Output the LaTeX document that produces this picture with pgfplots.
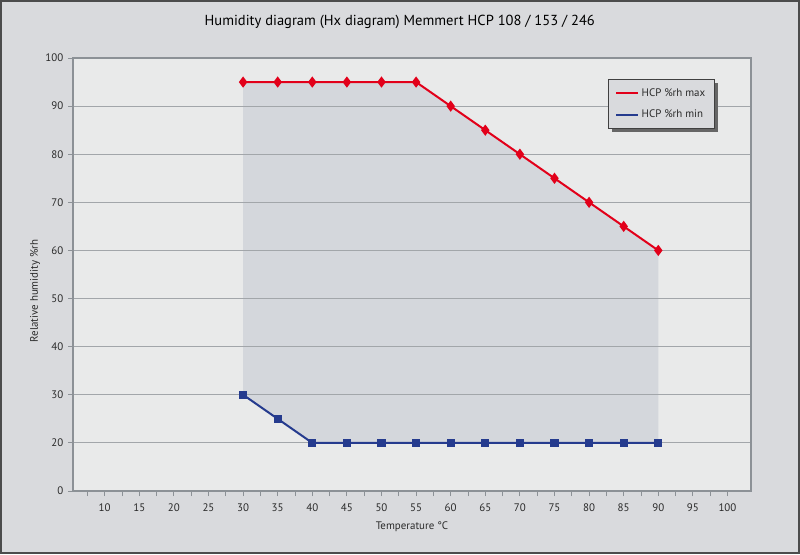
\documentclass[border=0pt]{standalone}
\usepackage{fontspec}
\setmainfont{PT Sans}
\usepackage{pgfplots}
\pgfplotsset{compat=1.18}
\usetikzlibrary{shadows}

\definecolor{outerbg}{HTML}{D9DADD}
\definecolor{plotbg}{HTML}{E9EAEA}
\definecolor{shade}{HTML}{D4D7DC}
\definecolor{gridc}{HTML}{A2A6AA}
\definecolor{axisc}{HTML}{8C9196}
\definecolor{hcpred}{HTML}{E2001A}
\definecolor{hcpblue}{HTML}{253B8E}
\definecolor{txt}{HTML}{2A2A2A}

\pagecolor{outerbg}

\begin{document}
\begin{tikzpicture}
\path (0,0) rectangle (600pt,415.5pt);

\begin{axis}[
    set layers,
    at={(54.75pt,47.25pt)}, anchor=south west,
    scale only axis,
    width=508.5pt, height=324.75pt,
    axis background/.style={fill=plotbg},
    xmin=5.42, xmax=103.4,
    ymin=10, ymax=100,
    xtick={10,15,...,100},
    minor xtick={7.5,12.5,...,97.5},
    ytick={10,20,...,100},
    yticklabels={0,20,30,40,50,60,70,80,90,100},
    tick align=outside,
    major tick length=3.75pt,
    minor tick length=3.75pt,
    tick style={axisc, line width=0.6pt},
    xtick pos=bottom, ytick pos=left,
    ymajorgrids,
    major grid style={gridc, line width=0.75pt},
    axis line style={axisc, line width=0.9pt},
    tick label style={font=\fontsize{8.2}{10}\selectfont, text=txt},
    /pgf/number format/assume math mode=true,
    xticklabel style={yshift=-2pt},
    label style={font=\fontsize{8.2}{10}\selectfont, text=txt},
    xlabel={Temperature °C},
    ylabel={Relative humidity \%rh},
    xlabel style={at={(axis description cs:0.5,-0.083)}, anchor=center},
    ylabel style={at={(axis description cs:-0.056,0.462)}, anchor=center},
    title={Humidity diagram (Hx diagram) Memmert HCP 108 / 153 / 246},
    title style={at={(axis description cs:0.482,1.065)}, anchor=center,
                 font=\fontsize{10.9}{12}\selectfont, text=black},
    legend cell align=left,
    legend style={at={(rel axis cs:0.789,0.951)}, anchor=north west,
        fill=outerbg, draw=black!75, line width=0.6pt,
        drop shadow={shadow xshift=2.4pt, shadow yshift=-2.4pt, fill=black!60, opacity=1},
        font=\fontsize{8.2}{10}\selectfont, text=txt,
        inner xsep=5pt, inner ysep=4.5pt, row sep=5pt},
    legend image code/.code={%
        \begin{scope}[#1]
        \pgfpathmoveto{\pgfpointorigin}%
        \pgfpathlineto{\pgfpoint{16.5pt}{0pt}}%
        \pgfusepath{stroke}%
        \end{scope}},
]
% band between the two limits
\addplot[fill=shade, draw=none, on layer=axis background, forget plot] coordinates {
    (30,95) (35,95) (40,95) (45,95) (50,95) (55,95) (60,90)
    (65,85) (70,80) (75,75) (80,70) (85,65) (90,60)
    (90,20) (85,20) (80,20) (75,20) (70,20) (65,20) (60,20)
    (55,20) (50,20) (45,20) (40,20) (35,25) (30,30)} -- cycle;
\addplot[hcpred, line width=1.5pt, mark=diamond*,
         mark size=3pt] coordinates {
    (30,95) (35,95) (40,95) (45,95) (50,95) (55,95) (60,90)
    (65,85) (70,80) (75,75) (80,70) (85,65) (90,60)};
\addlegendentry{HCP \%rh max}
\addplot[hcpblue, line width=1.5pt, mark=square*,
         mark size=2.3pt] coordinates {
    (30,30) (35,25) (40,20) (45,20) (50,20) (55,20) (60,20)
    (65,20) (70,20) (75,20) (80,20) (85,20) (90,20)};
\addlegendentry{HCP \%rh min}
\end{axis}
\draw[black!70, line width=1.5pt] (0.75pt,0.75pt) rectangle (599.25pt,414.75pt);
\end{tikzpicture}
\end{document}
